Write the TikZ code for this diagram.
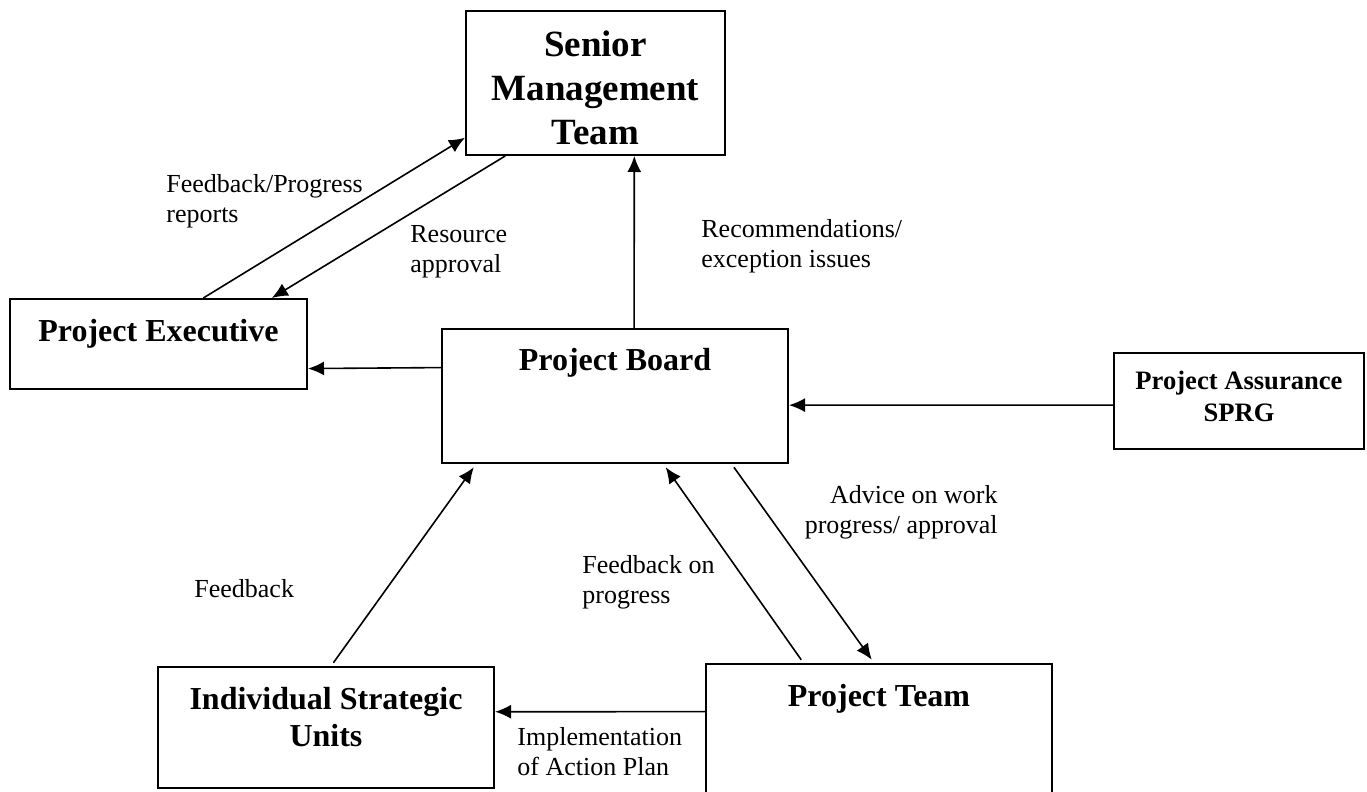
\documentclass[tikz,border=0pt]{standalone}
\usepackage{fontspec}
\setmainfont{Liberation Serif}
\usetikzlibrary{arrows.meta,calc}

\begin{document}
\begin{tikzpicture}[x=0.5pt,y=-0.5pt,
  box/.style={draw, line width=1pt, inner sep=0pt, align=center,
    font=\bfseries\fontsize{16}{18.5}\selectfont},
  lbl/.style={inner sep=0pt, font=\fontsize{13}{15}\selectfont},
  >={Latex[length=8pt,width=7pt]}]
\useasboundingbox (0,0) rectangle (1367,792);

% boxes (text height/depth measured from the last line's baseline)
\node[box, minimum width=129.5pt, text height=67pt, text depth=5pt,
  font=\bfseries\fontsize{18.5}{22}\selectfont] (smt) at (595.5,83)
  {Senior\\Management\\Team};
\node[box, minimum width=148.5pt, text height=21pt, text depth=24pt]
  (exec) at (158.5,344) {Project Executive};
\node[box, minimum width=173pt, text height=20.5pt, text depth=46.5pt]
  (board) at (615,396) {Project Board};
\node[box, minimum width=125pt, text height=34pt, text depth=14pt,
  font=\bfseries\fontsize{13.3}{16}\selectfont] (assure) at (1239,401)
  {Project Assurance\\SPRG};
\node[box, minimum width=168pt, text height=39.5pt, text depth=21pt]
  (units) at (326,727.5) {Individual Strategic\\Units};
\node[box, minimum width=173pt, text height=21pt, text depth=52pt]
  (team) at (879,737) {Project Team};

% labels, placed on the baseline of their last line
\node[lbl, anchor=base west, align=left] (lprog) at (166,222) {Feedback/Progress\\reports};
\node[lbl, anchor=base west, align=left] (lres) at (410,272) {Resource\\approval};
\node[lbl, anchor=base west, align=left] (lrec) at (701,267) {Recommendations/\\exception issues};
\node[lbl, anchor=base east, align=right] (ladv) at (998,533) {Advice on work\\progress/ approval};
\node[lbl, anchor=base west] (lfb) at (194,597) {Feedback};
\node[lbl, anchor=base west, align=left] (lfbp) at (582,603) {Feedback on\\progress};
\node[lbl, anchor=base west, align=left] (limp) at (517,775) {Implementation\\of Action Plan};

% arrows
\path[->, line width=0.8pt]
  ($(exec.north west)!0.65!(exec.north east)$) edge ($(smt.north west)!0.875!(smt.south west)$)
  ($(smt.south west)!0.154!(smt.south east)$) edge ($(exec.north west)!0.879!(exec.north east)$)
  ($(board.north west)!0.5549!(board.north east)$) edge ($(smt.south west)!0.6486!(smt.south east)$)
  ($(board.north west)!0.291!(board.south west)$) edge ($(exec.north east)!0.767!(exec.south east)$)
  ($(assure.north west)!0.5417!(assure.south west)$) edge ($(board.north east)!0.5672!(board.south east)$)
  ($(team.north west)!0.3288!(team.south west)$) edge ($(units.north east)!0.3719!(units.south east)$);
\path[->, line width=0.8pt, shorten <=2pt, shorten >=2pt]
  ($(units.north west)!0.515!(units.north east)$) edge ($(board.south west)!0.101!(board.south east)$)
  ($(team.north west)!0.283!(team.north east)$) edge ($(board.south west)!0.639!(board.south east)$)
  ($(board.south west)!0.835!(board.south east)$) edge ($(team.north west)!0.486!(team.north east)$);
\end{tikzpicture}
\end{document}
